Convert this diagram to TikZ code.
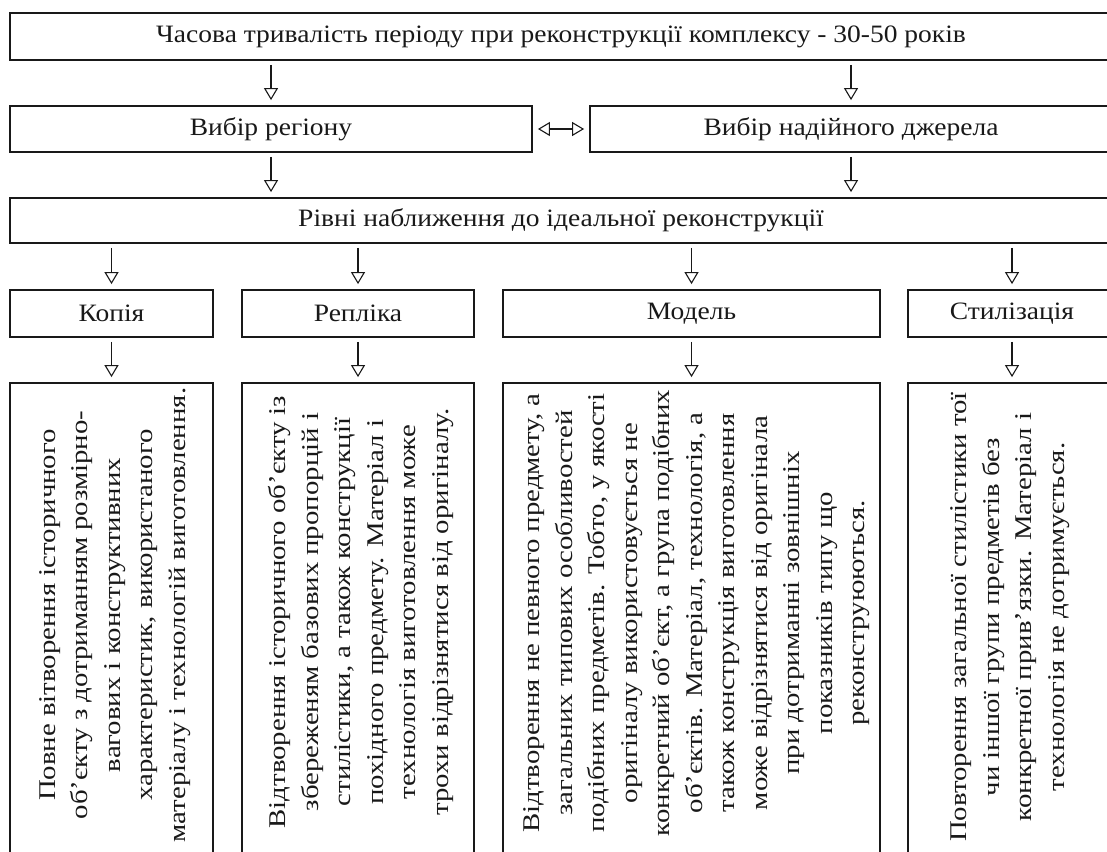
\documentclass[tikz,border=0pt]{standalone}
\usepackage{fontspec}
\setmainfont{Liberation Serif}
\newfontfamily\hfont[FakeStretch=1.1]{Liberation Serif}
\newfontfamily\vfont[FakeStretch=1.2]{Liberation Serif}
\usetikzlibrary{arrows.meta}
\begin{document}
\begin{tikzpicture}[x=1pt,y=-1pt,
  box/.style={draw=black!90, line width=1.8pt, inner sep=0pt},
  htext/.style={font=\hfont\fontsize{25}{25}\selectfont, text=black!90},
  vtext/.style={font=\vfont\fontsize{24}{32.5}\selectfont, text=black!90, rotate=90, align=center, inner sep=0pt},
  tip/.tip={Triangle[open,length=12pt,width=14pt,line width=1.1pt]},
  arr/.style={line width=1.1pt, draw=black!90, -tip, shorten <=4pt, shorten >=5pt},
  dbl/.style={line width=1.1pt, draw=black!90, tip-tip, shorten <=5pt, shorten >=5pt},
]
\clip (0,0) rectangle (1107,851);
\fill[white] (0,0) rectangle (1107,851);

% row 1
\node[box, htext, minimum width=1102pt, minimum height=47pt] (t) at (561,36.5) {Часова тривалість періоду при реконструкції комплексу - 30-50 років};
% row 2
\node[box, htext, minimum width=522pt, minimum height=46pt] (r) at (271,129) {Вибір регіону};
\node[box, htext, minimum width=522pt, minimum height=46pt] (s) at (851,129) {Вибір надійного джерела};
% row 3
\node[box, htext, minimum width=1102pt, minimum height=45pt] (l) at (561,220.5) {Рівні наближення до ідеальної реконструкції};
% row 4
\node[box, htext, minimum width=203pt, minimum height=47pt] (k) at (111.5,313.5) {Копія};
\node[box, htext, minimum width=232pt, minimum height=47pt] (p) at (358,313.5) {Репліка};
\node[box, htext, minimum width=377pt, minimum height=47pt] (m) at (691.5,313.5) {Модель};
\node[box, htext, minimum width=208pt, minimum height=47pt] (c) at (1012,313.5) {Стилізація};
% row 5
\node[box, minimum width=203pt, minimum height=517pt] (kk) at (111.5,641.5) {};
\node[box, minimum width=232pt, minimum height=517pt] (pp) at (358,641.5) {};
\node[box, minimum width=377pt, minimum height=517pt] (mm) at (691.5,641.5) {};
\node[box, minimum width=208pt, minimum height=517pt] (cc) at (1012,641.5) {};

\node[vtext] (kt) at (115,615) {Повне вітворення історичного\\об’єкту з дотриманням розмірно-\\вагових і конструктивних\\характеристик, використаного\\матеріалу і технологій виготовлення.};
\node[vtext] (pt) at (361,612) {Відтворення історичного об’єкту із\\збереженям базових пропорцій і\\стилістики, а також конструкції\\похідного предмету. Матеріал і\\технологія виготовлення може\\трохи відрізнятися від оригіналу.};
\node[vtext] (mt) at (697,613) {Відтворення не певного предмету, а\\загальних типових особливостей\\подібних предметів. Тобто, у якості\\оригіналу використовується не\\конкретний об’єкт, а група подібних\\об’єктів. Матеріал, технологія, а\\також конструкція виготовлення\\може відрізнятися від оригінала\\при дотриманні зовнішніх\\показників типу що\\реконструюються.};
\node[vtext] (ct) at (1010,617) {Повторення загальної стилістики тої\\чи іншої групи предметів без\\конкретної прив’язки. Матеріал і\\технологія не дотримується.};

% arrows
\draw[arr] (t.south -| r.north) -- (r.north);
\draw[arr] (t.south -| s.north) -- (s.north);
\draw[dbl] (r.east) -- (s.west);
\draw[arr] (r.south) -- (r.south |- l.north);
\draw[arr] (s.south) -- (s.south |- l.north);
\draw[arr] (l.south -| k.north) -- (k.north);
\draw[arr] (l.south -| p.north) -- (p.north);
\draw[arr] (l.south -| m.north) -- (m.north);
\draw[arr] (l.south -| c.north) -- (c.north);
\draw[arr] (k.south) -- (kk.north);
\draw[arr] (p.south) -- (pp.north);
\draw[arr] (m.south) -- (mm.north);
\draw[arr] (c.south) -- (cc.north);
\end{tikzpicture}
\end{document}
